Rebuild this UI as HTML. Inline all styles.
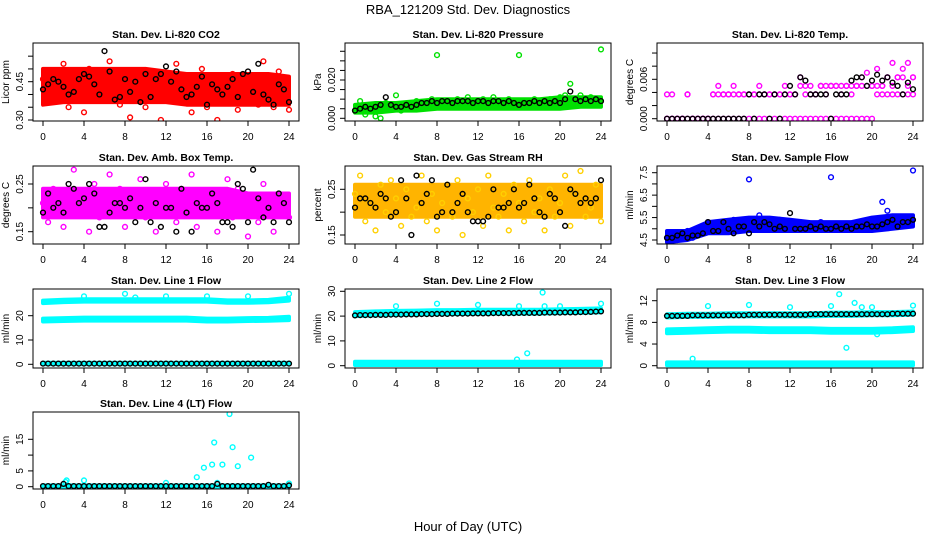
<!DOCTYPE html>
<html><head><meta charset="utf-8"><style>
body{margin:0;background:#fff}
svg{display:block;font-family:"Liberation Sans",sans-serif}
</style></head><body>
<svg id="chart" width="936" height="540" viewBox="0 0 936 540" xmlns="http://www.w3.org/2000/svg">
<rect width="936" height="540" fill="#fff"/>
<text x="468" y="14" text-anchor="middle" font-size="13">RBA_121209  Std. Dev. Diagnostics</text>
<text x="468" y="531" text-anchor="middle" font-size="13">Hour of Day (UTC)</text>
</svg>
<script>
const xTicks=[0,4,8,12,16,20,24];
// CO2
const co2Lo=[0.36,0.37,0.37,0.37,0.37,0.37,0.37,0.36,0.36,0.36,0.36,0.36,0.36];
const co2Hi=[0.50,0.50,0.50,0.50,0.50,0.50,0.49,0.48,0.48,0.48,0.48,0.48,0.47];
const co2Pts=[0.46,0.38,0.49,0.42,0.52,0.35,0.44,0.47,0.33,0.50,0.41,0.45,0.39,0.53,0.43,0.36,0.48,0.31,0.46,0.40,0.35,0.49,0.44,0.30,0.47,0.41,0.52,0.38,0.45,0.33,0.43,0.50,0.35,0.47,0.30,0.42,0.37,0.48,0.34,0.44,0.39,0.46,0.36,0.53,0.41,0.35,0.49,0.38,0.34];
const co2Blk=[0.42,0.44,0.46,0.45,0.43,0.40,0.41,0.46,0.48,0.47,0.44,0.40,0.57,0.49,0.38,0.39,0.46,0.41,0.45,0.37,0.48,0.39,0.46,0.48,0.51,0.45,0.49,0.42,0.39,0.40,0.43,0.47,0.36,0.44,0.42,0.40,0.43,0.46,0.39,0.48,0.49,0.41,0.52,0.40,0.38,0.36,0.44,0.42,0.37];
const co2Ticks=[0.30,0.35,0.40,0.45,0.50,0.55];const co2Labels=["0.30","","","0.45","",""];
// Pressure
const prLo=[0.003,0.003,0.004,0.004,0.005,0.005,0.005,0.005,0.005,0.005,0.005,0.006,0.006];
const prHi=[0.007,0.008,0.008,0.009,0.010,0.010,0.010,0.010,0.010,0.010,0.011,0.011,0.011];
const prPts=[0.004,0.009,0.002,0.006,0.001,0.0,0.008,0.005,0.012,0.004,0.007,0.006,0.009,0.005,0.008,0.010,0.033,0.007,0.009,0.006,0.010,0.008,0.011,0.007,0.009,0.010,0.008,0.011,0.006,0.009,0.010,0.008,0.033,0.007,0.009,0.010,0.006,0.008,0.010,0.009,0.011,0.012,0.018,0.010,0.012,0.009,0.011,0.010,0.036];
const prBlk=[0.004,0.005,0.006,0.005,0.006,0.007,0.011,0.007,0.006,0.006,0.007,0.006,0.007,0.008,0.008,0.009,0.008,0.009,0.009,0.008,0.009,0.009,0.009,0.008,0.009,0.009,0.008,0.009,0.009,0.008,0.009,0.008,0.007,0.008,0.008,0.009,0.008,0.009,0.008,0.009,0.008,0.010,0.014,0.010,0.009,0.010,0.009,0.010,0.009];
const prTicks=[0,0.005,0.010,0.015,0.020,0.025,0.030,0.035];const prLabels=["0.000","","","","0.020","","",""];
// Temp
const tpA=[0,0.0037,0,0,0.0037,0,0,0,0,0.0037,0.005,0.0037,0.0037,0.005,0.0037,0.0037,0.0037,0.0037,0.005,0.0037,0.0037,0.0037,0.0037,0.0037,0.0037,0.0037,0.0063,0.005,0.0037,0.0037,0.005,0.0037,0.005,0.005,0.0037,0.005,0.0037,0.005,0.0063,0.007,0.005,0.0076,0.005,0.0063,0.0085,0.0063,0.0076,0.0085,0.0063];
const tpB=[0,0,0,0,0,0,0,0,0,0,0,0,0,0,0,0,0,0,0,0,0,0,0,0,0,0,0,0,0,0,0,0,0,0,0,0,0,0,0,0,0,0.0037,0.0037,0.0037,0.0037,0.0037,0.0037,0.0037,0.0037];
const tpC=[0.0037,0,0,0,0.0037,0,0,0,0,0.0037,0.0037,0.0037,0.0037,0.0037,0.0037,0.0037,0.0037,0.0037,0.0037,0.0037,0.0037,0.0037,0.0037,0.005,0.0037,0.0037,0.005,0.0037,0.005,0.0037,0.005,0.005,0.005,0.005,0.005,0.005,0.005,0.005,0.005,0.005,0.005,0.005,0.005,0.0063,0.005,0.0063,0.0063,0.005,0.0063];
const tpBlk=[0,0,0,0,0,0,0,0,0,0,0,0,0,0,0,0,0.0037,0,0.0037,0.0037,0,0.0037,0,0.0037,0.005,0.0037,0.0063,0.0058,0.0037,0.0037,0.0037,0.0037,0,0.0037,0.0037,0.0037,0.0058,0.0063,0.0063,0.005,0.0058,0.0067,0.0058,0.0063,0.0055,0.005,0.0037,0.0055,0.0045];
const tpTicks=[0,0.002,0.004,0.006,0.008,0.010];const tpLabels=["0.000","","","0.006","",""];
// Amb box
const abLo=[0.18,0.18,0.18,0.18,0.18,0.18,0.18,0.18,0.18,0.18,0.18,0.18,0.18];
const abHi=[0.24,0.24,0.24,0.24,0.24,0.24,0.24,0.24,0.24,0.24,0.23,0.23,0.23];
const abPts=[0.21,0.17,0.24,0.19,0.16,0.23,0.28,0.20,0.22,0.15,0.25,0.18,0.21,0.27,0.19,0.24,0.16,0.22,0.20,0.26,0.18,0.23,0.15,0.21,0.25,0.19,0.17,0.24,0.20,0.27,0.16,0.22,0.19,0.23,0.15,0.21,0.26,0.18,0.24,0.20,0.14,0.22,0.17,0.25,0.19,0.15,0.23,0.20,0.18];
const abBlk=[0.19,0.23,0.20,0.21,0.19,0.25,0.24,0.21,0.22,0.25,0.23,0.16,0.16,0.19,0.21,0.21,0.20,0.22,0.17,0.20,0.26,0.17,0.21,0.16,0.20,0.20,0.15,0.24,0.19,0.15,0.21,0.20,0.20,0.23,0.21,0.17,0.17,0.16,0.25,0.24,0.17,0.28,0.22,0.18,0.20,0.17,0.23,0.21,0.17];
const abTicks=[0.15,0.20,0.25];const abLabels=["0.15","","0.25"];
// RH
const rhLo=[0.19,0.19,0.19,0.19,0.19,0.19,0.19,0.19,0.19,0.19,0.19,0.19,0.19];
const rhHi=[0.26,0.26,0.26,0.26,0.26,0.26,0.26,0.26,0.26,0.26,0.26,0.26,0.26];
const rhPts=[0.24,0.28,0.18,0.22,0.16,0.26,0.20,0.27,0.23,0.17,0.25,0.19,0.21,0.28,0.18,0.24,0.16,0.22,0.26,0.19,0.27,0.15,0.23,0.20,0.25,0.17,0.28,0.21,0.19,0.24,0.16,0.26,0.22,0.18,0.27,0.20,0.23,0.16,0.25,0.19,0.22,0.28,0.17,0.24,0.29,0.19,0.21,0.26,0.18];
const rhBlk=[0.21,0.23,0.23,0.22,0.21,0.24,0.23,0.19,0.20,0.27,0.23,0.15,0.28,0.22,0.24,0.27,0.19,0.20,0.26,0.20,0.22,0.24,0.20,0.18,0.18,0.18,0.19,0.25,0.21,0.21,0.22,0.25,0.21,0.22,0.26,0.23,0.20,0.19,0.24,0.23,0.20,0.17,0.25,0.24,0.22,0.23,0.22,0.23,0.27];
const rhTicks=[0.15,0.20,0.25];const rhLabels=["0.15","","0.25"];
// Sample flow
const sfLo=[4.4,4.5,4.8,4.8,4.9,4.9,4.9,4.9,4.9,4.9,4.9,5.0,5.1];
const sfHi=[4.9,4.9,5.3,5.4,5.5,5.5,5.4,5.3,5.3,5.3,5.5,5.6,5.6];
const sfPts=[4.6,4.8,4.5,4.7,4.9,4.6,4.8,5.0,5.3,5.1,4.9,5.2,5.0,5.4,5.2,5.1,7.2,5.2,5.6,5.1,5.3,5.2,5.4,5.0,5.2,5.1,5.3,5.0,5.2,5.1,5.3,5.0,7.3,5.1,5.0,5.2,5.1,5.2,5.0,5.3,5.4,5.2,6.2,5.8,5.4,5.3,5.5,5.3,7.6];
const sfBlk=[4.6,4.6,4.7,4.8,4.6,4.7,4.7,4.8,5.3,4.9,4.9,5.3,5.0,4.8,5.1,5.1,4.8,5.3,5.1,5.3,5.2,5.0,5.1,5.0,5.7,5.0,5.0,5.0,5.1,5.0,5.1,5.0,5.0,5.1,5.0,5.1,5.0,5.1,5.1,5.2,5.1,5.1,5.2,5.3,5.4,5.1,5.3,5.3,5.4];
const sfTicks=[4.5,5.0,5.5,6.0,6.5,7.0,7.5];const sfLabels=["4.5","","5.5","","6.5","","7.5"];
// Line 1
const l1UpLo=[25.2,25.6,25.8,25.8,25.8,25.8,25.8,25.8,25.8,25.3,25.3,25.5,26.2];
const l1UpHi=[26.2,26.6,26.8,26.8,26.8,26.8,26.8,26.8,26.8,26.3,26.3,26.5,27.4];
const l1LoLo=[17.6,17.8,18.0,18.0,18.0,18.0,18.0,18.0,17.6,17.6,17.8,17.9,18.2];
const l1LoHi=[18.8,19.0,19.2,19.2,19.2,19.2,19.2,19.2,18.8,18.8,19.0,19.1,19.6];
const l1ZLo=[0,0,0,0,0,0,0,0,0,0,0,0,0];
const l1ZHi=[0.6,0.6,0.6,0.6,0.6,0.6,0.6,0.6,0.6,0.6,0.6,0.6,0.6];
const l1OutH=[4,8,9,12,16,20,24];
const l1OutV=[28,29,27.5,28,28,28,29];
const l1Blk=[0.3,0.3,0.3,0.3,0.3,0.3,0.3,0.3,0.3,0.3,0.3,0.3,0.3,0.3,0.3,0.3,0.3,0.3,0.3,0.3,0.3,0.3,0.3,0.3,0.3,0.3,0.3,0.3,0.3,0.3,0.3,0.3,0.3,0.3,0.3,0.3,0.3,0.3,0.3,0.3,0.3,0.3,0.3,0.3,0.3,0.3,0.3,0.3,0.3];
const l1Ticks=[0,10,20];const l1Labels=["0","10","20"];
// Line 2
const l2UpLo=[20.0,20.3,20.5,20.6,20.8,20.8,21.0,21.0,21.0,21.0,21.2,21.3,21.5];
const l2UpHi=[21.6,21.9,22.1,22.2,22.4,22.4,22.6,22.6,22.6,22.6,22.8,22.9,23.1];
const l2ZLo=[0.3,0.3,0.3,0.3,0.3,0.3,0.3,0.3,0.3,0.3,0.3,0.3,0.3];
const l2ZHi=[1.6,1.6,1.6,1.6,1.6,1.6,1.6,1.6,1.6,1.6,1.6,1.6,1.6];
const l2OutH=[4,8,12,15.8,16,16.8,18.3,18.5,20,24];
const l2OutV=[24,25,24.5,2.5,24,5,29.5,24,24,25];
const l2Blk=[20.3,20.4,20.4,20.4,20.5,20.5,20.5,20.6,20.6,20.6,20.7,20.7,20.7,20.8,20.8,20.8,20.9,20.9,20.9,21.0,21.0,21.0,21.0,21.1,21.1,21.1,21.1,21.2,21.2,21.2,21.2,21.2,21.3,21.3,21.3,21.3,21.3,21.4,21.4,21.4,21.4,21.5,21.5,21.5,21.6,21.6,21.7,21.8,21.9];
const l2Ticks=[0,10,20,30];const l2Labels=["0","10","20","30"];
// Line 3
const l3UpLo=[8.9,9.0,9.0,9.1,9.1,9.1,9.1,9.1,9.2,9.2,9.3,9.3,9.4];
const l3UpHi=[9.5,9.6,9.6,9.7,9.7,9.7,9.7,9.7,9.8,9.8,9.9,9.9,10.0];
const l3MdLo=[6.0,6.1,6.2,6.3,6.3,6.2,6.2,6.2,6.1,6.1,6.1,6.2,6.4];
const l3MdHi=[6.7,6.8,6.9,7.0,7.0,6.9,6.9,6.9,6.8,6.8,6.8,6.9,7.1];
const l3ZLo=[0.1,0.1,0.1,0.1,0.1,0.1,0.1,0.1,0.1,0.1,0.1,0.1,0.1];
const l3ZHi=[0.6,0.6,0.6,0.6,0.6,0.6,0.6,0.6,0.6,0.6,0.6,0.6,0.6];
const l3OutH=[2.5,4,8,12,16,16.8,17.5,18.3,19,20,20.5,24];
const l3OutV=[1.3,11,11.2,10.8,11,13.2,3.3,11.6,10.8,10.8,5.8,11.1];
const l3Blk=[9.2,9.2,9.2,9.2,9.2,9.3,9.3,9.3,9.3,9.3,9.3,9.3,9.3,9.3,9.3,9.3,9.4,9.4,9.4,9.4,9.4,9.4,9.4,9.4,9.4,9.4,9.4,9.4,9.5,9.5,9.5,9.5,9.5,9.5,9.5,9.5,9.5,9.5,9.5,9.5,9.5,9.5,9.5,9.5,9.6,9.6,9.6,9.6,9.6];
const l3Ticks=[0,4,8,12];const l3Labels=["0","4","8","12"];
// Line 4
const l4ZLo=[0,0,0,0,0,0,0,0,0,0,0,0,0];
const l4ZHi=[0.4,0.4,0.4,0.4,0.4,0.4,0.4,0.4,0.4,0.4,0.4,0.4,0.4];
const l4OutH=[2.3,4,12,15,15.7,16.5,16.7,17.5,18.2,18.5,19,20.3,24,17,2.2];
const l4OutV=[2,2,1.2,3,6,7,14,7,23,12.5,6.5,9.2,1,1.2,1.5];
const l4Blk=[0.2,0.2,0.2,0.2,0.9,0.2,0.2,0.2,0.2,0.2,0.2,0.2,0.2,0.2,0.2,0.2,0.2,0.2,0.2,0.2,0.2,0.2,0.2,0.2,0.2,0.2,0.2,0.2,0.2,0.2,0.2,0.2,0.2,0.2,0.9,0.2,0.2,0.2,0.2,0.2,0.2,0.2,0.2,0.2,0.6,0.2,0.2,0.2,0.4];
const l4Ticks=[0,5,10,15];const l4Labels=["0","5","","15"];

const NS="http://www.w3.org/2000/svg";
const svg=document.getElementById('chart');
function mk(tag,attrs,parent){const e=document.createElementNS(NS,tag);for(const k in attrs)e.setAttribute(k,attrs[k]);(parent||svg).appendChild(e);return e;}

function panel(p){
  const g=mk('g',{});
  
  
  const L=33+312*p.col, T=[43,166,289,412][p.row], B=[121,244,368,489][p.row], R=L+266;
  const xs=h=>L+10+h*10.25;
  const ys=v=>p.y0+(v-p.v0)*(p.y1-p.y0)/(p.v1-p.v0);
  const clip='c'+p.name;
  const cp=mk('clipPath',{id:clip},g);mk('rect',{x:L,y:T,width:266,height:B-T},cp);
  const plot=mk('g',{'clip-path':'url(#'+clip+')'},g);
  (p.bands||[]).forEach(b=>{
    const n=b.lo.length;let d='';
    for(let i=0;i<n;i++)d+=(i?'L':'M')+xs(i*24/(n-1)).toFixed(1)+','+ys(b.hi[i]).toFixed(1);
    for(let i=n-1;i>=0;i--)d+='L'+xs(i*24/(n-1)).toFixed(1)+','+ys(b.lo[i]).toFixed(1);
    const e=mk('path',{d:d+'Z',fill:b.color,stroke:b.color,'stroke-width':4,'stroke-linejoin':'round'},plot);
    
    
  });
  (p.series||[]).forEach(s=>{
    const n=s.v.length;
    s.v.forEach((v,i)=>{
      const h=s.h?s.h[i]:i*24/(n-1);
      const c=mk('circle',{cx:xs(h).toFixed(1),cy:ys(v).toFixed(1),r:2.4,fill:'none',stroke:s.color,'stroke-width':1.4},plot);
      
      
    });
  });
  const box=mk('rect',{x:L,y:T,width:266,height:B-T,fill:'none',stroke:'#000','stroke-width':1},g);
  
  
  xTicks.forEach(t=>{
    mk('line',{x1:xs(t),x2:xs(t),y1:B,y2:B+5,stroke:'#000'},g);
    const tx=mk('text',{x:xs(t),y:B+19,'text-anchor':'middle','font-size':10},g);tx.textContent=t;
    
    
  });
  p.ticks.forEach((t,i)=>{
    const y=ys(t);
    mk('line',{x1:L-5,x2:L,y1:y,y2:y,stroke:'#000'},g);
    if(p.labels[i]){const tx=mk('text',{x:0,y:0,'text-anchor':'middle','font-size':10,transform:`translate(${L-10},${y}) rotate(-90)`},g);tx.textContent=p.labels[i];
    
    }
  });
  const yl=mk('text',{x:0,y:0,'text-anchor':'middle','font-size':10,transform:`translate(${L-24},${(T+B)/2}) rotate(-90)`},g);yl.textContent=p.ylab;
  
  
  const ti=mk('text',{x:(L+R)/2,y:T-5,'text-anchor':'middle','font-size':10.5,'font-weight':'bold'},g);ti.textContent=p.title;
  
  
}
const cy='#00ffff';
panel({name:'co2-panel',row:0,col:0,title:'Stan. Dev. Li-820 CO2',ylab:'Licor ppm',v0:0.30,y0:120,v1:0.45,y1:81.7,ticks:co2Ticks,labels:co2Labels,
  bands:[{lo:co2Lo,hi:co2Hi,color:'#ff0000'}],series:[{v:co2Pts,color:'#ff0000',label:'co2'},{v:co2Blk,color:'#000',label:'co2-black'}]});
panel({name:'pressure-panel',row:0,col:1,title:'Stan. Dev. Li-820 Pressure',ylab:'kPa',v0:0,y0:118.3,v1:0.02,y1:80,ticks:prTicks,labels:prLabels,
  bands:[{lo:prLo,hi:prHi,color:'#00e000'}],series:[{v:prPts,color:'#00e000',label:'pressure'},{v:prBlk,color:'#000',label:'pressure-black'}]});
panel({name:'temp-panel',row:0,col:2,title:'Stan. Dev. Li-820 Temp.',ylab:'degrees C',v0:0,y0:118.7,v1:0.006,y1:79.3,ticks:tpTicks,labels:tpLabels,
  series:[{v:tpA,color:'#ff00ff',label:'temp'},{v:tpB,color:'#ff00ff',label:'temp'},{v:tpC,color:'#ff00ff',label:'temp'},{v:tpBlk,color:'#000',label:'temp-black'}]});
panel({name:'ambbox-panel',row:1,col:0,title:'Stan. Dev. Amb. Box Temp.',ylab:'degrees C',v0:0.25,y0:184,v1:0.15,y1:231.7,ticks:abTicks,labels:abLabels,
  bands:[{lo:abLo,hi:abHi,color:'#ff00ff'}],series:[{v:abPts,color:'#ff00ff',label:'ambbox'},{v:abBlk,color:'#000',label:'ambbox-black'}]});
panel({name:'rh-panel',row:1,col:1,title:'Stan. Dev. Gas Stream RH',ylab:'percent',v0:0.25,y0:189.3,v1:0.15,y1:235,ticks:rhTicks,labels:rhLabels,
  bands:[{lo:rhLo,hi:rhHi,color:'#ffb400'}],series:[{v:rhPts,color:'#ffd000',label:'rh'},{v:rhBlk,color:'#000',label:'rh-black'}]});
panel({name:'sampleflow-panel',row:1,col:2,title:'Stan. Dev. Sample Flow',ylab:'ml/min',v0:4.5,y0:240,v1:7.5,y1:172.7,ticks:sfTicks,labels:sfLabels,
  bands:[{lo:sfLo,hi:sfHi,color:'#0000ff'}],series:[{v:sfPts,color:'#0000ff',label:'sampleflow'},{v:sfBlk,color:'#000',label:'sampleflow-black'}]});
panel({name:'line1-panel',row:2,col:0,title:'Stan. Dev. Line 1 Flow',ylab:'ml/min',v0:0,y0:364.3,v1:20,y1:315.7,ticks:l1Ticks,labels:l1Labels,
  bands:[{lo:l1UpLo,hi:l1UpHi,color:cy},{lo:l1LoLo,hi:l1LoHi,color:cy},{lo:l1ZLo,hi:l1ZHi,color:cy}],series:[{h:l1OutH,v:l1OutV,color:cy,label:'line1'},{v:l1Blk,color:'#000',label:'line1-black'}]});
panel({name:'line2-panel',row:2,col:1,title:'Stan. Dev. Line 2 Flow',ylab:'ml/min',v0:0,y0:365.7,v1:30,y1:291.3,ticks:l2Ticks,labels:l2Labels,
  bands:[{lo:l2UpLo,hi:l2UpHi,color:cy},{lo:l2ZLo,hi:l2ZHi,color:cy}],series:[{h:l2OutH,v:l2OutV,color:cy,label:'line2'},{v:l2Blk,color:'#000',label:'line2-black'}]});
panel({name:'line3-panel',row:2,col:2,title:'Stan. Dev. Line 3 Flow',ylab:'ml/min',v0:0,y0:365.7,v1:12,y1:300.7,ticks:l3Ticks,labels:l3Labels,
  bands:[{lo:l3UpLo,hi:l3UpHi,color:cy},{lo:l3MdLo,hi:l3MdHi,color:cy},{lo:l3ZLo,hi:l3ZHi,color:cy}],series:[{h:l3OutH,v:l3OutV,color:cy,label:'line3'},{v:l3Blk,color:'#000',label:'line3-black'}]});
panel({name:'line4-panel',row:3,col:0,title:'Stan. Dev. Line 4 (LT) Flow',ylab:'ml/min',v0:0,y0:486.7,v1:15,y1:439.3,ticks:l4Ticks,labels:l4Labels,
  bands:[{lo:l4ZLo,hi:l4ZHi,color:cy}],series:[{h:l4OutH,v:l4OutV,color:cy,label:'line4'},{v:l4Blk,color:'#000',label:'line4-black'}]});
</script>
</body></html>
